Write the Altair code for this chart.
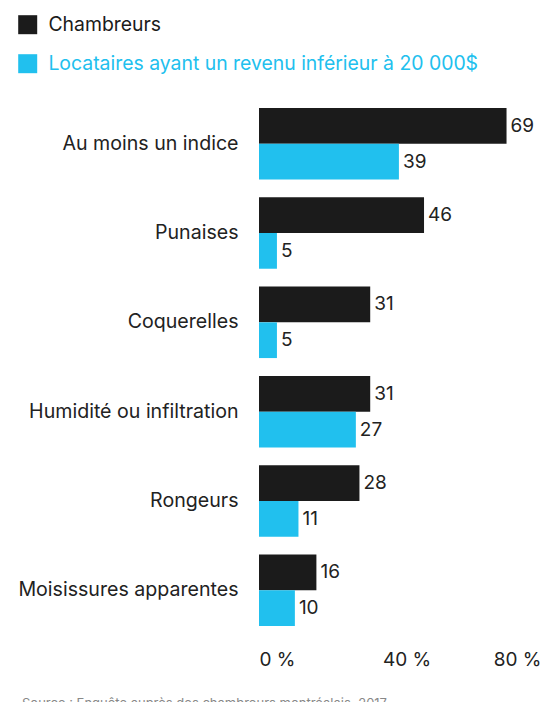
import altair as alt
import pandas as pd

categories = ["Au moins un indice", "Punaises", "Coquerelles",
              "Humidité ou infiltration", "Rongeurs", "Moisissures apparentes"]
series = ["Chambreurs", "Locataires ayant un revenu inférieur à 20 000$"]
chambreurs = [69, 46, 31, 31, 28, 16]
locataires = [39, 5, 5, 27, 11, 10]
x_ticks = [0, 40, 80]
source_text = ["Source : Enquête auprès des chambreurs montréalais, 2017"]

rows = []
for c, a, b in zip(categories, chambreurs, locataires):
    rows.append({"cat": c, "serie": series[0], "val": a})
    rows.append({"cat": c, "serie": series[1], "val": b})
df = pd.DataFrame(rows)

colors = ["#1b1b1b", "#21c0ee"]
FONT = "Inter"
TXT = "#222222"

y = alt.Y("cat:N", sort=categories, title=None,
          scale=alt.Scale(paddingInner=0.2, paddingOuter=0.1),
          axis=alt.Axis(labelFontSize=19.6, labelColor=TXT, labelPadding=21,
                        labelLimit=400, ticks=False, domain=False,
                        labelFont=FONT))
yoff = alt.YOffset("serie:N", sort=series,
                   scale=alt.Scale(paddingInner=0, paddingOuter=0))
x = alt.X("val:Q", scale=alt.Scale(domain=[0, 80], nice=False, range=[0, 287]),
          title=None,
          axis=alt.Axis(values=x_ticks, labelExpr="datum.value + ' %'",
                        grid=False, ticks=False, domain=False,
                        labelFontSize=19, labelColor=TXT, labelFont=FONT,
                        labelPadding=15,
                        labelAlign=alt.ExprRef("datum.value == 0 ? 'left' : datum.value == 80 ? 'right' : 'center'"),
                        labelOffset=alt.ExprRef("datum.value == 80 ? -5 : datum.value == 40 ? 4 : 0")))

color = alt.Color("serie:N", sort=series,
                  scale=alt.Scale(domain=series, range=colors),
                  legend=alt.Legend(orient="none", legendX=-241, legendY=-84,
                                    title=None, symbolType="square",
                                    symbolSize=361, symbolStrokeWidth=0,
                                    labelFontSize=19.4, labelFont=FONT,
                                    rowPadding=18, padding=0, labelOffset=11,
                                    labelLimit=500,
                                    labelColor=alt.ExprRef("datum.value == 'Chambreurs' ? '#1b1b1b' : '#21c0ee'")))

base = alt.Chart(df)
bars = base.mark_bar().encode(y=y, yOffset=yoff, x=x, color=color)
labels = base.mark_text(align="left", dx=4, fontSize=19, font=FONT,
                        color=TXT).encode(
    y=alt.Y("cat:N", sort=categories), yOffset=alt.YOffset("serie:N", sort=series),
    x="val:Q", text="val:Q")

src = alt.Chart(pd.DataFrame({"t": source_text})).mark_text(
    align="left", baseline="top", fontSize=13, font=FONT, color="#888").encode(
    x=alt.value(-237), y=alt.value(599), text="t:N")

chart = alt.layer(bars, labels, src).properties(
    width=282, height=536,
    padding={"left": 251, "top": 91, "right": 0, "bottom": 95},
    autosize=alt.AutoSizeParams(type="none"),
).configure_view(stroke=None)

chart.save("out.html", embed_options={"renderer": "svg", "actions": False})
